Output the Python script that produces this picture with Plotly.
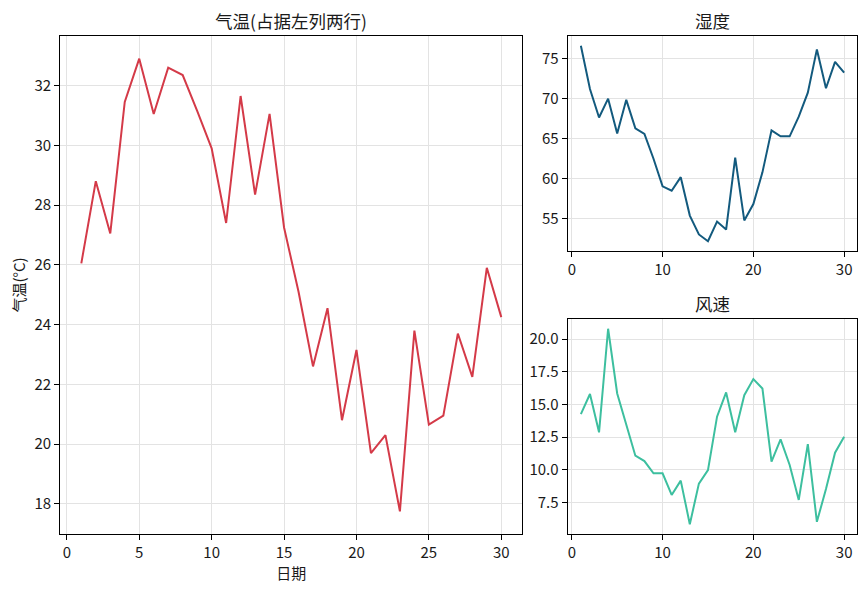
import plotly.graph_objects as go

# daily data, 30 days
days = list(range(1, 31))
temperature = [26.05, 28.8, 27.05, 31.45, 32.9, 31.05, 32.6, 32.35, 31.15, 29.9,
               27.4, 31.65, 28.35, 31.05, 27.25, 25.1, 22.6, 24.55, 20.8, 23.15,
               19.7, 20.3, 17.75, 23.8, 20.65, 20.95, 23.7, 22.25, 25.9, 24.25]
humidity = [76.6, 71.2, 67.65, 70.0, 65.65, 69.85, 66.3, 65.6, 62.5, 59.05,
            58.5, 60.2, 55.4, 53.05, 52.2, 54.65, 53.65, 62.65, 54.8, 56.85,
            60.8, 66.05, 65.3, 65.3, 67.75, 70.75, 76.15, 71.3, 74.6, 73.25]
wind_speed = [14.26, 15.8, 12.86, 20.8, 15.84, 13.4, 11.07, 10.66, 9.72, 9.72,
              8.06, 9.16, 5.82, 8.93, 9.97, 14.06, 15.92, 12.86, 15.71, 16.94,
              16.22, 10.61, 12.32, 10.36, 7.68, 11.96, 6.0, 8.52, 11.3, 12.53]

FONT = "Noto Sans CJK SC"


def pad_range(vals, frac=0.05):
    lo, hi = min(vals), max(vals)
    m = (hi - lo) * frac
    return [lo - m, hi + m]


fig = go.Figure()
fig.add_trace(go.Scatter(x=days, y=temperature, mode="lines",
                         line=dict(color="#d43a48", width=2),
                         xaxis="x", yaxis="y", showlegend=False))
fig.add_trace(go.Scatter(x=days, y=humidity, mode="lines",
                         line=dict(color="#135a7e", width=2),
                         xaxis="x2", yaxis="y2", showlegend=False))
fig.add_trace(go.Scatter(x=days, y=wind_speed, mode="lines",
                         line=dict(color="#3dbf9f", width=2),
                         xaxis="x3", yaxis="y3", showlegend=False))

axis_style = dict(showline=True, linecolor="black", linewidth=1.2, mirror=True,
                  ticks="outside", ticklen=5, tickcolor="black", tickwidth=1,
                  showgrid=True, gridcolor="#e3e3e3", gridwidth=1,
                  zeroline=False, tickfont=dict(family=FONT, size=15, color="#1a1a1a"))

# page body has an 8px margin, so the figure is a bit smaller than the window
fig.update_layout(
    width=859, height=585,
    margin=dict(l=0, r=0, t=0, b=0),
    paper_bgcolor="white", plot_bgcolor="white",
    font=dict(family=FONT, size=15, color="#1a1a1a"),
    xaxis=dict(domain=[0.0609, 0.5987], range=pad_range(days), tickvals=[0, 5, 10, 15, 20, 25, 30],
               title=dict(text="日期", font=dict(size=15), standoff=3), anchor="y", **axis_style),
    yaxis=dict(domain=[0.1009, 0.9521], range=pad_range(temperature), dtick=2,
               title=dict(text="气温(°C)", font=dict(size=15), standoff=7), anchor="x", **axis_style),
    xaxis2=dict(domain=[0.6516, 0.9887], range=pad_range(days), tickvals=[0, 10, 20, 30],
                anchor="y2", **axis_style),
    yaxis2=dict(domain=[0.5846, 0.9521], range=pad_range(humidity), dtick=5,
                anchor="x2", **axis_style),
    xaxis3=dict(domain=[0.6516, 0.9887], range=pad_range(days), tickvals=[0, 10, 20, 30],
                anchor="y3", **axis_style),
    yaxis3=dict(domain=[0.1009, 0.4684], range=pad_range(wind_speed), dtick=2.5,
                tickformat=".1f", anchor="x3", **axis_style),
    annotations=[
        dict(text="气温(占据左列两行)", x=0.3298, y=0.9521, xref="paper", yref="paper",
             xanchor="center", yanchor="bottom", yshift=2, borderpad=0, showarrow=False,
             font=dict(family=FONT, size=17.5, color="#1a1a1a")),
        dict(text="湿度", x=0.8202, y=0.9521, xref="paper", yref="paper",
             xanchor="center", yanchor="bottom", yshift=2, borderpad=0, showarrow=False,
             font=dict(family=FONT, size=17.5, color="#1a1a1a")),
        dict(text="风速", x=0.8202, y=0.4684, xref="paper", yref="paper",
             xanchor="center", yanchor="bottom", yshift=2, borderpad=0, showarrow=False,
             font=dict(family=FONT, size=17.5, color="#1a1a1a")),
    ],
)

fig.write_html("out.html")
